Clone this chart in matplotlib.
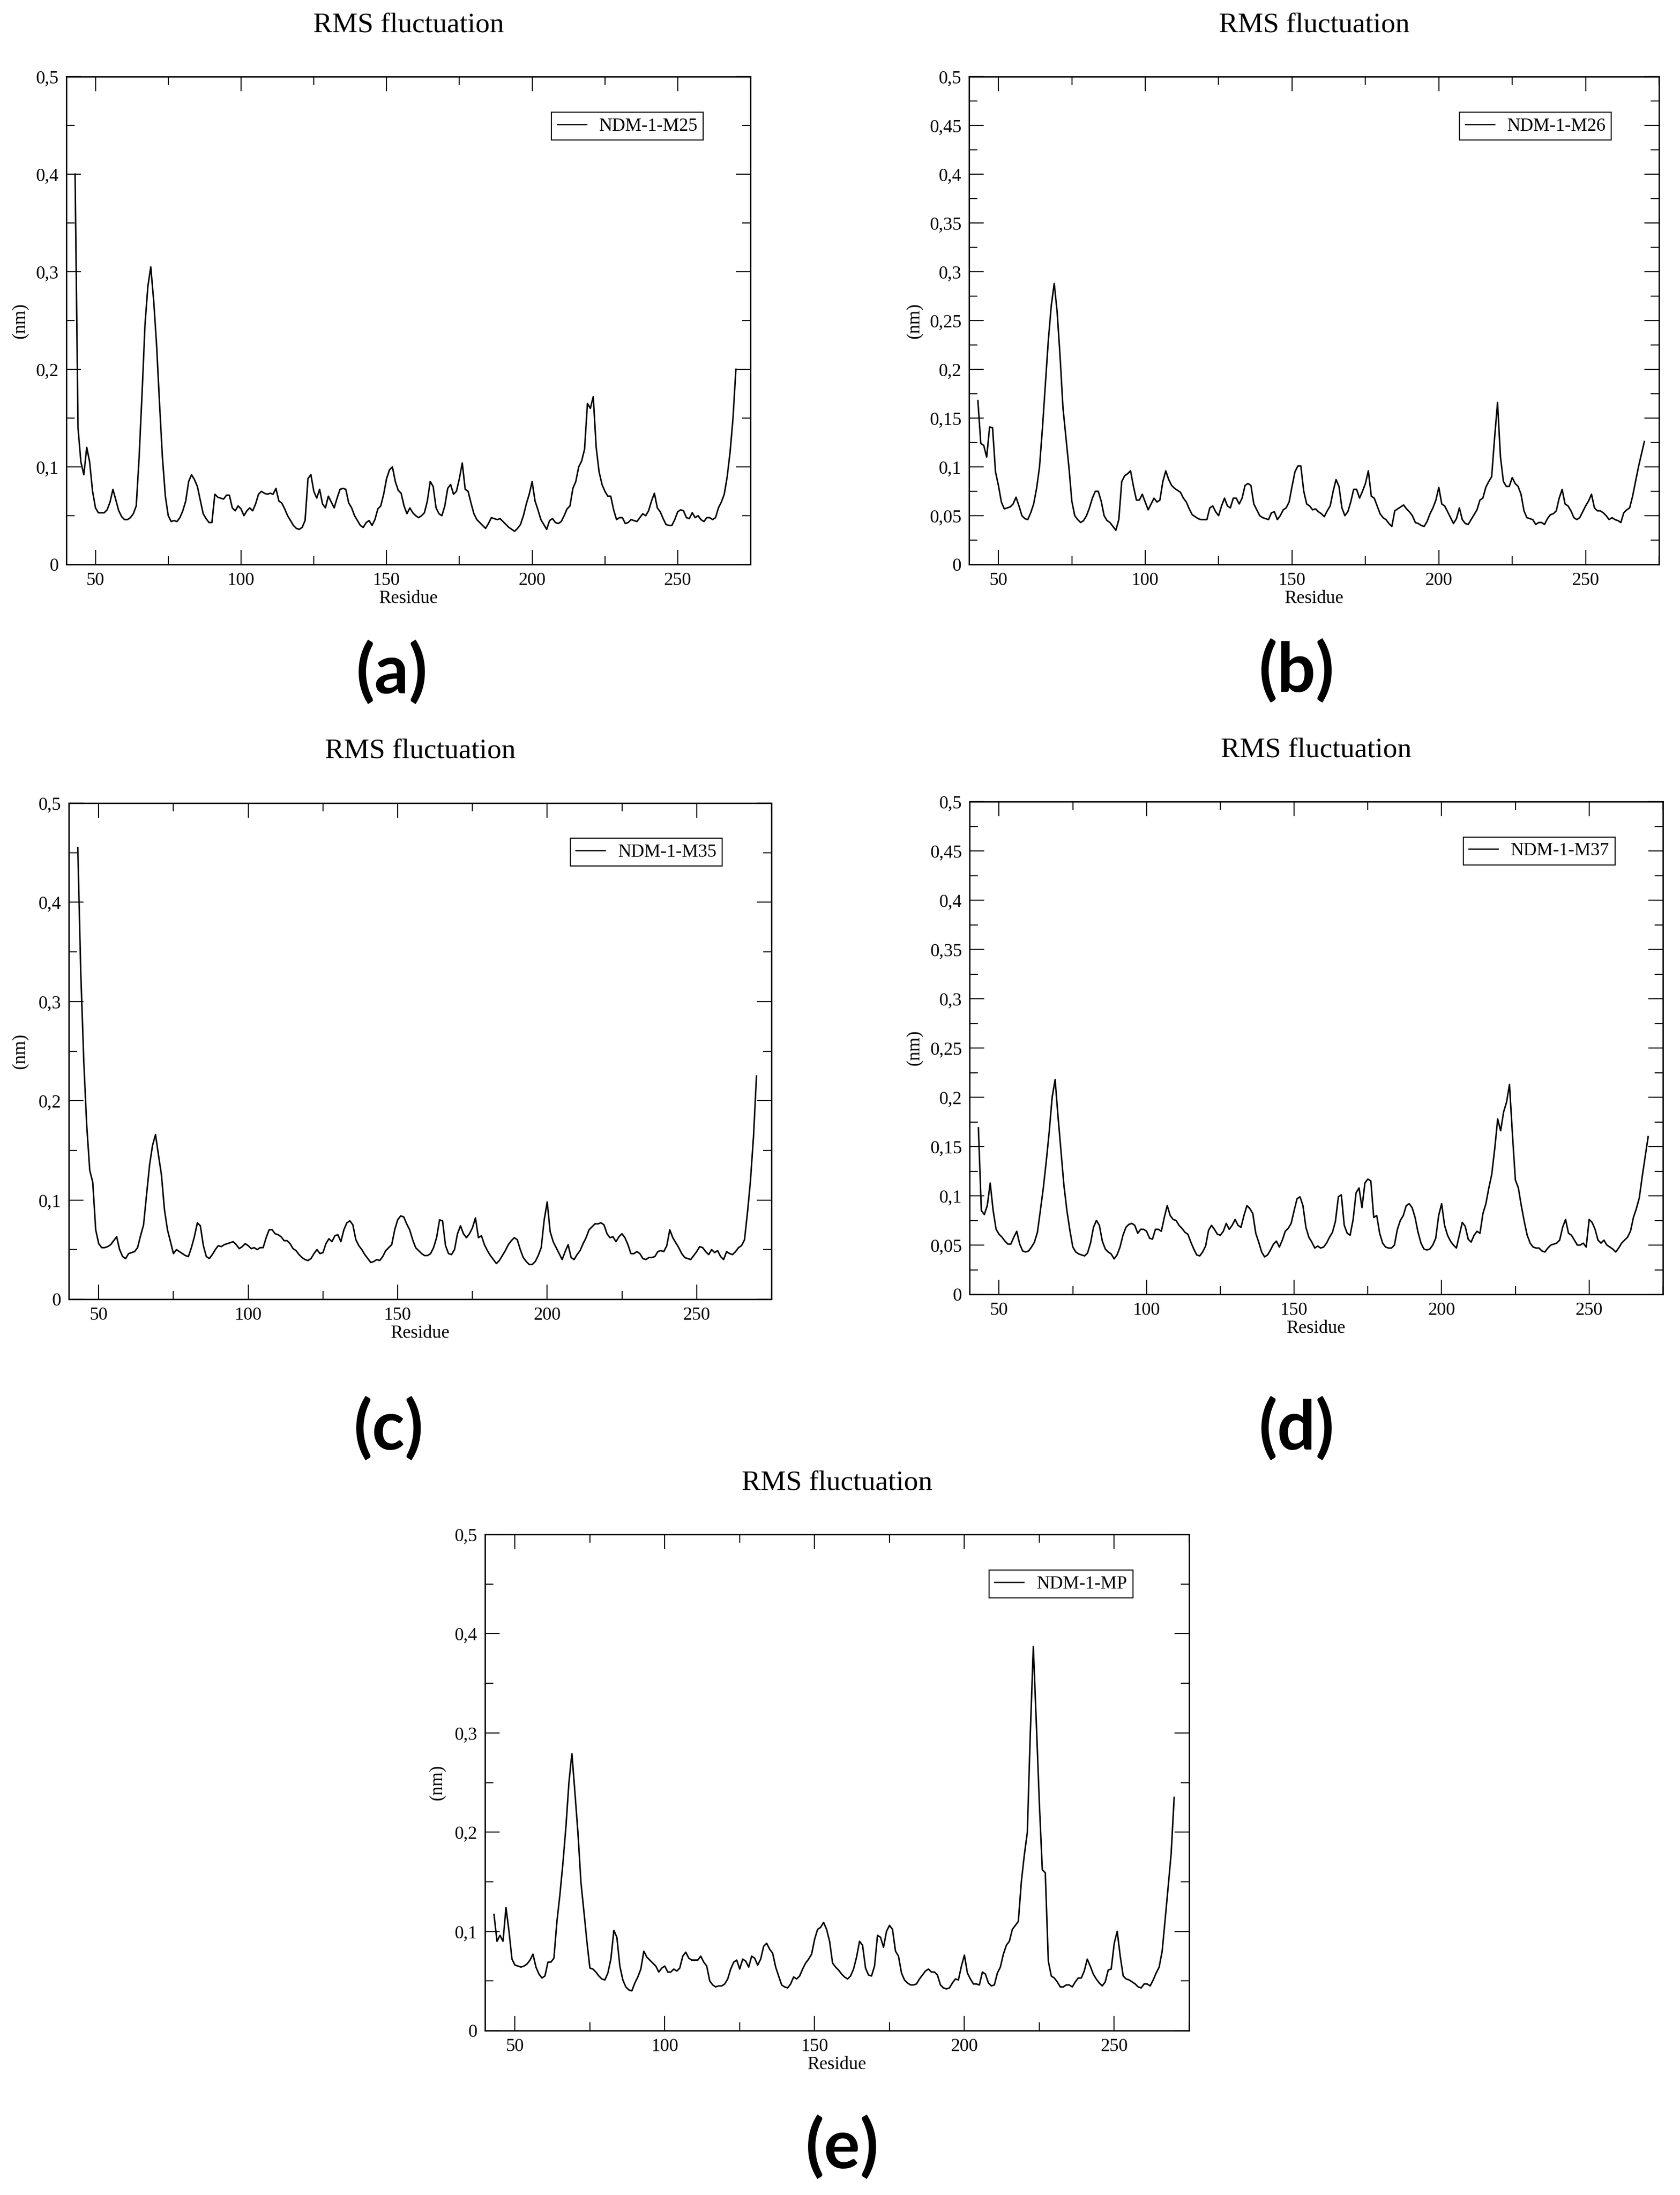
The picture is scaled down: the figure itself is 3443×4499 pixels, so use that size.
import matplotlib
matplotlib.use('Agg')
import matplotlib.pyplot as plt
from matplotlib.ticker import MultipleLocator, FuncFormatter

# ---------------- data ----------------
residues = list(range(43, 271))

rmsf_m25 = [
    0.400, 0.140, 0.105, 0.092, 0.120, 0.105, 0.075, 0.058, 0.053, 0.053,
    0.053, 0.056, 0.064, 0.077, 0.066, 0.055, 0.049, 0.046, 0.046, 0.048,
    0.052, 0.060, 0.110, 0.175, 0.245, 0.285, 0.305, 0.270, 0.225, 0.165,
    0.110, 0.070, 0.050, 0.044, 0.045, 0.044, 0.048, 0.055, 0.065, 0.085,
    0.092, 0.087, 0.080, 0.066, 0.052, 0.047, 0.043, 0.043, 0.072, 0.069,
    0.068, 0.067, 0.071, 0.071, 0.058, 0.055, 0.060, 0.057, 0.050, 0.055,
    0.058, 0.055, 0.062, 0.072, 0.075, 0.073, 0.072, 0.073, 0.072, 0.078,
    0.065, 0.063, 0.057, 0.050, 0.045, 0.040, 0.037, 0.036, 0.038, 0.045,
    0.088, 0.092, 0.075, 0.068, 0.077, 0.062, 0.058, 0.070, 0.064, 0.058,
    0.068, 0.077, 0.078, 0.077, 0.063, 0.058, 0.050, 0.045, 0.040, 0.038,
    0.043, 0.045, 0.040, 0.046, 0.057, 0.060, 0.072, 0.088, 0.097, 0.100,
    0.085, 0.076, 0.073, 0.060, 0.052, 0.058, 0.053, 0.050, 0.048, 0.050,
    0.053, 0.065, 0.085, 0.080, 0.058, 0.052, 0.050, 0.060, 0.078, 0.082,
    0.072, 0.075, 0.088, 0.104, 0.077, 0.075, 0.063, 0.052, 0.046, 0.043,
    0.040, 0.037, 0.042, 0.048, 0.047, 0.046, 0.047, 0.044, 0.041, 0.038,
    0.036, 0.034, 0.037, 0.041, 0.050, 0.062, 0.072, 0.085, 0.065, 0.056,
    0.046, 0.041, 0.036, 0.045, 0.047, 0.043, 0.042, 0.044, 0.050, 0.057,
    0.060, 0.078, 0.085, 0.100, 0.106, 0.118, 0.165, 0.160, 0.172, 0.120,
    0.095, 0.082, 0.075, 0.070, 0.070, 0.056, 0.046, 0.048, 0.048, 0.042,
    0.043, 0.046, 0.045, 0.044, 0.048, 0.052, 0.050, 0.055, 0.065, 0.073,
    0.058, 0.054, 0.047, 0.041, 0.040, 0.040, 0.046, 0.054, 0.056, 0.055,
    0.048, 0.047, 0.053, 0.048, 0.050, 0.046, 0.044, 0.048, 0.048, 0.046,
    0.048, 0.058, 0.064, 0.072, 0.090, 0.115, 0.150, 0.200,
]

rmsf_m26 = [
    0.168, 0.124, 0.122, 0.110, 0.141, 0.140, 0.095, 0.081, 0.064, 0.057,
    0.058, 0.059, 0.062, 0.069, 0.060, 0.050, 0.047, 0.046, 0.053, 0.062,
    0.078, 0.100, 0.140, 0.185, 0.230, 0.265, 0.288, 0.259, 0.213, 0.160,
    0.130, 0.100, 0.065, 0.050, 0.046, 0.043, 0.045, 0.050, 0.058, 0.068,
    0.075, 0.075, 0.065, 0.050, 0.045, 0.043, 0.039, 0.035, 0.046, 0.085,
    0.091, 0.093, 0.096, 0.080, 0.066, 0.066, 0.072, 0.064, 0.056, 0.062,
    0.068, 0.064, 0.066, 0.085, 0.096, 0.087, 0.081, 0.078, 0.076, 0.074,
    0.068, 0.064, 0.057, 0.051, 0.049, 0.047, 0.046, 0.046, 0.046, 0.058,
    0.060, 0.054, 0.050, 0.060, 0.068, 0.060, 0.058, 0.068, 0.068, 0.062,
    0.068, 0.081, 0.083, 0.081, 0.062, 0.056, 0.050, 0.048, 0.047, 0.046,
    0.053, 0.054, 0.046, 0.050, 0.056, 0.058, 0.064, 0.080, 0.095, 0.101,
    0.101, 0.075, 0.062, 0.060, 0.056, 0.057, 0.054, 0.052, 0.049, 0.055,
    0.060, 0.075, 0.087, 0.080, 0.058, 0.050, 0.054, 0.064, 0.077, 0.077,
    0.068, 0.075, 0.083, 0.096, 0.070, 0.068, 0.060, 0.052, 0.048, 0.046,
    0.042, 0.039, 0.055, 0.057, 0.059, 0.061, 0.057, 0.054, 0.050, 0.043,
    0.042, 0.040, 0.039, 0.044, 0.052, 0.058, 0.066, 0.079, 0.062, 0.060,
    0.054, 0.048, 0.042, 0.047, 0.058, 0.046, 0.042, 0.041, 0.046, 0.051,
    0.056, 0.066, 0.068, 0.079, 0.085, 0.090, 0.130, 0.166, 0.110, 0.085,
    0.080, 0.080, 0.089, 0.083, 0.080, 0.072, 0.055, 0.048, 0.047, 0.046,
    0.041, 0.043, 0.043, 0.041, 0.047, 0.051, 0.052, 0.055, 0.068, 0.077,
    0.062, 0.060, 0.055, 0.048, 0.046, 0.048, 0.054, 0.060, 0.065, 0.072,
    0.058, 0.055, 0.055, 0.053, 0.050, 0.046, 0.048, 0.046, 0.045, 0.043,
    0.053, 0.056, 0.058, 0.070, 0.085, 0.100, 0.113, 0.126,
]

rmsf_m35 = [
    0.455, 0.330, 0.240, 0.175, 0.130, 0.118, 0.070, 0.056, 0.052, 0.052,
    0.053, 0.055, 0.059, 0.063, 0.050, 0.043, 0.041, 0.046, 0.047, 0.048,
    0.052, 0.064, 0.075, 0.105, 0.135, 0.155, 0.166, 0.145, 0.125, 0.090,
    0.070, 0.058, 0.046, 0.050, 0.048, 0.046, 0.044, 0.043, 0.052, 0.063,
    0.077, 0.074, 0.054, 0.043, 0.041, 0.045, 0.050, 0.054, 0.053, 0.055,
    0.056, 0.057, 0.058, 0.055, 0.051, 0.053, 0.056, 0.054, 0.051, 0.052,
    0.050, 0.052, 0.052, 0.062, 0.070, 0.070, 0.066, 0.065, 0.063, 0.059,
    0.059, 0.056, 0.051, 0.049, 0.045, 0.042, 0.040, 0.039, 0.041, 0.046,
    0.050, 0.046, 0.047, 0.056, 0.061, 0.058, 0.064, 0.065, 0.058, 0.070,
    0.077, 0.079, 0.075, 0.060, 0.054, 0.050, 0.045, 0.041, 0.037, 0.038,
    0.040, 0.039, 0.043, 0.049, 0.052, 0.055, 0.070, 0.080, 0.084, 0.083,
    0.076, 0.070, 0.060, 0.052, 0.049, 0.046, 0.044, 0.044, 0.046, 0.052,
    0.062, 0.080, 0.079, 0.054, 0.046, 0.045, 0.050, 0.066, 0.074, 0.066,
    0.062, 0.066, 0.072, 0.082, 0.062, 0.064, 0.055, 0.049, 0.044, 0.040,
    0.036, 0.039, 0.044, 0.049, 0.055, 0.059, 0.062, 0.060, 0.050, 0.042,
    0.038, 0.035, 0.035, 0.038, 0.044, 0.052, 0.080, 0.098, 0.068, 0.058,
    0.052, 0.046, 0.040, 0.048, 0.055, 0.042, 0.040, 0.045, 0.049, 0.056,
    0.062, 0.070, 0.073, 0.076, 0.076, 0.077, 0.075, 0.066, 0.062, 0.063,
    0.058, 0.063, 0.066, 0.062, 0.055, 0.046, 0.046, 0.048, 0.046, 0.041,
    0.040, 0.042, 0.042, 0.043, 0.048, 0.049, 0.048, 0.054, 0.070, 0.062,
    0.057, 0.052, 0.046, 0.042, 0.041, 0.040, 0.044, 0.048, 0.053, 0.052,
    0.048, 0.045, 0.050, 0.047, 0.049, 0.043, 0.040, 0.048, 0.046, 0.045,
    0.048, 0.052, 0.054, 0.060, 0.088, 0.120, 0.164, 0.225,
]

rmsf_m37 = [
    0.169, 0.085, 0.081, 0.090, 0.113, 0.085, 0.066, 0.061, 0.058, 0.054,
    0.051, 0.051, 0.058, 0.064, 0.051, 0.044, 0.043, 0.044, 0.048, 0.053,
    0.063, 0.085, 0.108, 0.135, 0.165, 0.200, 0.218, 0.180, 0.145, 0.110,
    0.085, 0.065, 0.048, 0.043, 0.041, 0.040, 0.039, 0.042, 0.052, 0.068,
    0.075, 0.070, 0.054, 0.046, 0.043, 0.041, 0.036, 0.040, 0.048, 0.060,
    0.068, 0.071, 0.072, 0.070, 0.062, 0.066, 0.066, 0.064, 0.057, 0.056,
    0.066, 0.066, 0.064, 0.078, 0.090, 0.080, 0.076, 0.075, 0.070, 0.067,
    0.063, 0.061, 0.053, 0.046, 0.040, 0.039, 0.043, 0.049, 0.065, 0.070,
    0.066, 0.061, 0.060, 0.064, 0.072, 0.066, 0.070, 0.076, 0.070, 0.068,
    0.080, 0.090, 0.087, 0.082, 0.062, 0.053, 0.043, 0.038, 0.040, 0.045,
    0.051, 0.054, 0.048, 0.055, 0.064, 0.067, 0.072, 0.085, 0.097, 0.099,
    0.090, 0.068, 0.058, 0.053, 0.047, 0.049, 0.047, 0.048, 0.052, 0.058,
    0.063, 0.074, 0.099, 0.101, 0.070, 0.062, 0.060, 0.076, 0.103, 0.108,
    0.088, 0.113, 0.117, 0.115, 0.078, 0.080, 0.062, 0.052, 0.048, 0.047,
    0.047, 0.050, 0.066, 0.075, 0.080, 0.090, 0.092, 0.088, 0.078, 0.063,
    0.052, 0.046, 0.045, 0.046, 0.050, 0.057, 0.080, 0.092, 0.070, 0.060,
    0.054, 0.050, 0.047, 0.060, 0.073, 0.069, 0.056, 0.053, 0.060, 0.064,
    0.062, 0.082, 0.092, 0.108, 0.122, 0.148, 0.178, 0.166, 0.185, 0.195,
    0.213, 0.162, 0.116, 0.108, 0.090, 0.074, 0.060, 0.052, 0.048, 0.047,
    0.047, 0.044, 0.043, 0.047, 0.050, 0.051, 0.052, 0.055, 0.068, 0.076,
    0.062, 0.060, 0.055, 0.050, 0.050, 0.052, 0.048, 0.076, 0.073, 0.066,
    0.055, 0.052, 0.055, 0.050, 0.048, 0.046, 0.043, 0.047, 0.052, 0.055,
    0.058, 0.064, 0.078, 0.087, 0.098, 0.120, 0.140, 0.160,
]

rmsf_mp = [
    0.117, 0.090, 0.096, 0.090, 0.124, 0.100, 0.072, 0.066, 0.065, 0.064,
    0.065, 0.067, 0.071, 0.077, 0.064, 0.057, 0.053, 0.055, 0.069, 0.069,
    0.073, 0.110, 0.137, 0.169, 0.205, 0.250, 0.279, 0.240, 0.200, 0.150,
    0.120, 0.090, 0.063, 0.062, 0.059, 0.055, 0.052, 0.051, 0.058, 0.072,
    0.101, 0.094, 0.065, 0.051, 0.044, 0.041, 0.040, 0.048, 0.054, 0.062,
    0.080, 0.074, 0.071, 0.068, 0.065, 0.059, 0.063, 0.065, 0.059, 0.059,
    0.062, 0.060, 0.063, 0.075, 0.079, 0.073, 0.071, 0.071, 0.071, 0.075,
    0.069, 0.065, 0.050, 0.046, 0.044, 0.045, 0.045, 0.047, 0.052, 0.062,
    0.069, 0.071, 0.062, 0.072, 0.070, 0.064, 0.075, 0.073, 0.066, 0.072,
    0.085, 0.088, 0.082, 0.078, 0.064, 0.055, 0.046, 0.044, 0.043, 0.047,
    0.054, 0.052, 0.055, 0.062, 0.068, 0.072, 0.077, 0.092, 0.102, 0.104,
    0.109, 0.102, 0.090, 0.068, 0.064, 0.061, 0.057, 0.054, 0.052, 0.055,
    0.062, 0.074, 0.090, 0.086, 0.063, 0.056, 0.055, 0.065, 0.096, 0.094,
    0.084, 0.100, 0.106, 0.102, 0.080, 0.075, 0.058, 0.051, 0.048, 0.046,
    0.046, 0.047, 0.052, 0.056, 0.060, 0.062, 0.059, 0.059, 0.056, 0.046,
    0.043, 0.042, 0.043, 0.048, 0.052, 0.051, 0.065, 0.076, 0.058, 0.052,
    0.047, 0.047, 0.046, 0.059, 0.057, 0.048, 0.045, 0.046, 0.058, 0.064,
    0.077, 0.086, 0.090, 0.102, 0.106, 0.110, 0.150, 0.177, 0.200, 0.300,
    0.387, 0.310, 0.230, 0.162, 0.159, 0.070, 0.055, 0.053, 0.049, 0.044,
    0.044, 0.046, 0.046, 0.044, 0.049, 0.053, 0.053, 0.060, 0.072, 0.065,
    0.057, 0.052, 0.048, 0.045, 0.049, 0.061, 0.062, 0.088, 0.100, 0.075,
    0.055, 0.052, 0.051, 0.049, 0.047, 0.044, 0.043, 0.047, 0.047, 0.045,
    0.051, 0.058, 0.064, 0.080, 0.112, 0.145, 0.178, 0.235,
]

series_values = [rmsf_m25, rmsf_m26, rmsf_m35, rmsf_m37, rmsf_mp]
series_names = ['NDM-1-M25', 'NDM-1-M26', 'NDM-1-M35', 'NDM-1-M37', 'NDM-1-MP']
panel_letters = ['(a)', '(b)', '(c)', '(d)', '(e)']
y_major_steps = [0.1, 0.05, 0.1, 0.05, 0.1]
x_major_ticks = [50, 100, 150, 200, 250]
title_text = 'RMS fluctuation'
xlabel_text = 'Residue'
ylabel_text = '(nm)'

# ---------------- layout (pixels in 3443 x 4499 canvas) ----------------
W, H, DPI = 3443, 4499, 100
axes_px = [  # x0, y0(top), x1, y1(bottom)
    (136, 157, 1538, 1157),
    (1986, 157, 3400, 1157),
    (141, 1646, 1581, 2663),
    (1987, 1643, 3408, 2653),
    (994, 3145, 2437, 4162),
]
ylabel_offset = [95, 112, 100, 113, 98]
legend_anchor = [(0.931, 0.927), (0.931, 0.927), (0.930, 0.929),
                 (0.931, 0.928), (0.920, 0.928)]
letter_px = [(803, 1379), (2657, 1376), (797, 2929), (2657, 2929), (1726, 4402)]

plt.rcParams['font.family'] = ['Liberation Serif', 'DejaVu Serif']
plt.rcParams['mathtext.fontset'] = 'stix'

fig = plt.figure(figsize=(W / DPI, H / DPI), dpi=DPI)
fig.patch.set_facecolor('white')


def fx(x):
    return x / W


def fy(y):
    return 1 - y / H


def comma_fmt(v, pos):
    s = '%g' % round(v, 4)
    return s.replace('.', ',')


TICK_FS = 27
for i in range(5):
    x0, y0, x1, y1 = axes_px[i]
    ax = fig.add_axes([fx(x0), fy(y1), (x1 - x0) / W, (y1 - y0) / H])
    vals = series_values[i]
    n = min(len(residues), len(vals))
    ax.plot(residues[:n], vals[:n], color='black', lw=2.2,
            label=series_names[i], solid_joinstyle='round')
    ax.set_xlim(40, 275)
    ax.set_ylim(0, 0.5)
    ax.set_xticks(x_major_ticks)
    ax.xaxis.set_minor_locator(MultipleLocator(25))
    step = y_major_steps[i]
    ax.yaxis.set_major_locator(MultipleLocator(step))
    ax.yaxis.set_minor_locator(MultipleLocator(step / 2))
    ax.yaxis.set_major_formatter(FuncFormatter(comma_fmt))
    ax.xaxis.set_major_formatter(FuncFormatter(comma_fmt))
    ax.tick_params(which='both', direction='in', top=True, right=True,
                   color='black', width=1.6)
    ax.tick_params(which='major', length=21.5, labelsize=TICK_FS)
    ax.tick_params(which='minor', length=12)
    ax.tick_params(axis='x', which='major', pad=11)
    ax.tick_params(axis='y', which='major', pad=11)
    for sp in ax.spines.values():
        sp.set_linewidth(2.0)
        sp.set_color('black')

    leg = ax.legend(loc='upper right', bbox_to_anchor=legend_anchor[i],
                    borderaxespad=0, fancybox=False, edgecolor='black',
                    framealpha=1, fontsize=TICK_FS, handlelength=1.6,
                    handletextpad=0.7, borderpad=0.3)
    leg.get_frame().set_linewidth(1.6)
    for ln in leg.get_lines():
        ln.set_linewidth(1.8)

    xc = (x0 + x1) / 2
    fig.text(fx(xc), fy(y0 - 106), title_text, ha='center', va='center',
             fontsize=42)
    fig.text(fx(xc), fy(y1 + 70), xlabel_text, ha='center', va='center',
             fontsize=TICK_FS)
    fig.text(fx(x0 - ylabel_offset[i]), fy((y0 + y1) / 2), ylabel_text,
             rotation=90, ha='center', va='center', fontsize=TICK_FS)

    lx, ly = letter_px[i]
    fig.text(fx(lx), fy(ly), panel_letters[i], ha='center', va='center',
             fontsize=100, fontweight='bold',
             family=['Lato', 'Open Sans', 'DejaVu Sans'])

fig.savefig('out.png', dpi=DPI, facecolor='white')
